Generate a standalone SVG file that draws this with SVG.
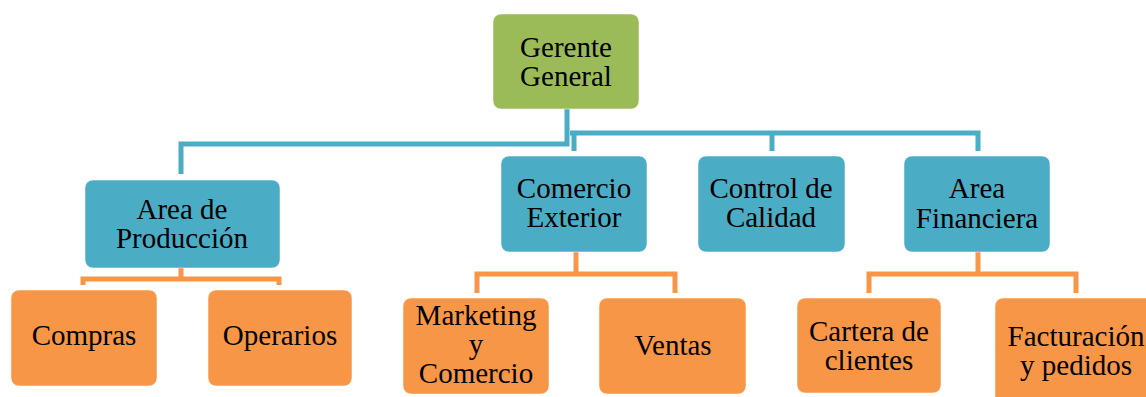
<svg xmlns="http://www.w3.org/2000/svg" width="1146" height="397" viewBox="0 0 1146 397">
<style>
.box{stroke:#ffffff;stroke-opacity:0.5;stroke-width:1}
.green{fill:#9BBB59}
.blue{fill:#4BACC6}
.orange{fill:#F79646}
.t{font-family:"Liberation Serif","Times New Roman",serif;font-size:29px;fill:#000;text-anchor:middle}
.cb{fill:none;stroke:#4BACC6;stroke-width:5}
.co{fill:none;stroke:#F79646;stroke-width:5}
</style>
<rect width="1146" height="397" fill="#ffffff"/>
<g id="connectors">
<path class="cb" d="M567,109 V144 H181 V174"/>
<path class="cb" d="M570,133 H978 V151"/>
<path class="cb" d="M574,133 V151"/>
<path class="cb" d="M772,133 V151"/>
<path class="co" d="M181,268 V279"/>
<path class="co" d="M83,285 V279 H279 V285"/>
<path class="co" d="M576,252 V274"/>
<path class="co" d="M477,293 V274 H675 V293"/>
<path class="co" d="M978,252 V274"/>
<path class="co" d="M869,293 V274 H1076 V293"/>
</g>
<g id="gerente">
<rect class="box green" x="493" y="14" width="146" height="95" rx="8"/>
<text class="t" x="566" y="57">Gerente</text>
<text class="t" x="566" y="86">General</text>
</g>
<g id="produccion">
<rect class="box blue" x="85" y="180" width="195" height="88" rx="8"/>
<text class="t" x="182" y="219">Area de</text>
<text class="t" x="182" y="248">Producción</text>
</g>
<g id="comercio-exterior">
<rect class="box blue" x="501" y="156" width="146" height="96" rx="8"/>
<text class="t" x="574" y="198">Comercio</text>
<text class="t" x="574" y="227">Exterior</text>
</g>
<g id="control-calidad">
<rect class="box blue" x="698" y="156" width="147" height="96" rx="8"/>
<text class="t" x="771" y="198">Control de</text>
<text class="t" x="771" y="227">Calidad</text>
</g>
<g id="area-financiera">
<rect class="box blue" x="904" y="156" width="146" height="96" rx="8"/>
<text class="t" x="977" y="198">Area</text>
<text class="t" x="977" y="228">Financiera</text>
</g>
<g id="compras">
<rect class="box orange" x="11" y="290" width="146" height="96" rx="8"/>
<text class="t" x="84" y="345">Compras</text>
</g>
<g id="operarios">
<rect class="box orange" x="208" y="290" width="144" height="96" rx="8"/>
<text class="t" x="280" y="345">Operarios</text>
</g>
<g id="marketing">
<rect class="box orange" x="403" y="298" width="146" height="96" rx="8"/>
<text class="t" x="476" y="325">Marketing</text>
<text class="t" x="476" y="354">y</text>
<text class="t" x="476" y="383">Comercio</text>
</g>
<g id="ventas">
<rect class="box orange" x="599" y="298" width="147" height="96" rx="8"/>
<text class="t" x="673" y="355">Ventas</text>
</g>
<g id="cartera">
<rect class="box orange" x="797" y="298" width="144" height="95" rx="8"/>
<text class="t" x="869" y="341">Cartera de</text>
<text class="t" x="869" y="370">clientes</text>
</g>
<g id="facturacion">
<rect class="box orange" x="995" y="298" width="160" height="110" rx="8"/>
<text class="t" x="1076" y="346">Facturación</text>
<text class="t" x="1076" y="375">y pedidos</text>
</g>
</svg>
